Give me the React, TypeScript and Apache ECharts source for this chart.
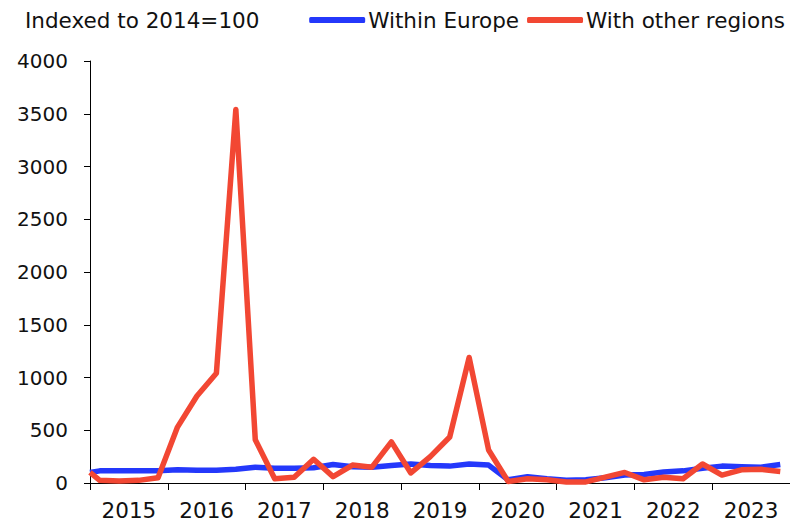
import React, { useEffect, useRef } from "react";
import * as echarts from "echarts";

const years = ["2015", "2016", "2017", "2018", "2019", "2020", "2021", "2022", "2023"];
const baseValue = 100; // 2014 = 100
const withinEurope = [
  115, 115, 115, 115, 125, 120, 120, 130, 150, 140, 140, 145,
  175, 155, 150, 165, 180, 165, 160, 180, 170, 30, 60, 40,
  25, 30, 50, 75, 80, 105, 115, 140, 160, 155, 150, 175,
];
const withOtherRegions = [
  25, 20, 25, 50, 530, 825, 1040, 3540, 410, 40, 55, 225,
  60, 170, 150, 390, 95, 250, 436, 1190, 313, 15, 40, 30,
  10, 10, 55, 100, 30, 55, 40, 180, 75, 125, 130, 110,
];
const yTicks = [0, 500, 1000, 1500, 2000, 2500, 3000, 3500, 4000];

const FONT = "DejaVu Sans, sans-serif";

function toSeries(vals: number[]) {
  // first point: 2014 baseline at the start of 2015; then quarterly mid-points
  const pts: [number, number][] = [[0, baseValue]];
  vals.forEach((v, i) => pts.push([i + 0.5, v]));
  return pts;
}

export default function App() {
  const ref = useRef<HTMLDivElement>(null);
  useEffect(() => {
    if (!ref.current) return;
    const chart = echarts.init(ref.current, undefined, { renderer: "svg" });
    chart.setOption({
      animation: false,
      backgroundColor: "#ffffff",
      textStyle: { fontFamily: FONT },
      graphic: [
        {
          type: "text",
          left: 25,
          top: 9,
          style: { text: "Indexed to 2014=100", fontSize: 21.5, fill: "#111", fontFamily: FONT },
        },
      ],
      legend: {
        top: 4,
        right: 0,
        itemWidth: 56,
        itemHeight: 6,
        itemGap: 8,
        icon: "roundRect",
        textStyle: { fontSize: 21.5, color: "#111", fontFamily: FONT, padding: [0, 0, 0, -2] },
        data: ["Within Europe", "With other regions"],
      },
      grid: { left: 90, right: -12, top: 61, bottom: 46, containLabel: false },
      xAxis: [
        {
          type: "category",
          data: years,
          boundaryGap: true,
          position: "bottom",
          axisLine: { show: true, lineStyle: { color: "#000", width: 1 } },
          axisTick: { show: true, interval: 0, length: 7, lineStyle: { color: "#000" } },
          axisLabel: { fontSize: 21.5, color: "#111", margin: 16, fontFamily: FONT, interval: 0 },
          splitLine: { show: false },
        },
        {
          type: "value",
          min: 0,
          max: 36,
          show: false,
        },
      ],
      yAxis: {
        type: "value",
        min: yTicks[0],
        max: yTicks[yTicks.length - 1],
        interval: 500,
        axisLine: { show: true, lineStyle: { color: "#000", width: 1 } },
        axisTick: { show: true, length: 6, lineStyle: { color: "#000" } },
        axisLabel: {
          fontSize: 20,
          color: "#111",
          margin: 22,
          fontFamily: FONT,
          formatter: (v: number) => String(v),
        },
        splitLine: { show: false },
      },
      series: [
        {
          name: "Within Europe",
          type: "line",
          xAxisIndex: 1,
          data: toSeries(withinEurope),
          symbol: "none",
          lineStyle: { color: "#2438fb", width: 5.5, join: "round" },
          itemStyle: { color: "#2438fb" },
          z: 2,
        },
        {
          name: "With other regions",
          type: "line",
          xAxisIndex: 1,
          data: toSeries(withOtherRegions),
          symbol: "none",
          lineStyle: { color: "#f24733", width: 5.5, join: "round" },
          itemStyle: { color: "#f24733" },
          z: 3,
        },
      ],
    });
    return () => chart.dispose();
  }, []);
  return <div ref={ref} style={{ width: 790, height: 529, position: "absolute", left: 0, top: 0 }} />;
}
